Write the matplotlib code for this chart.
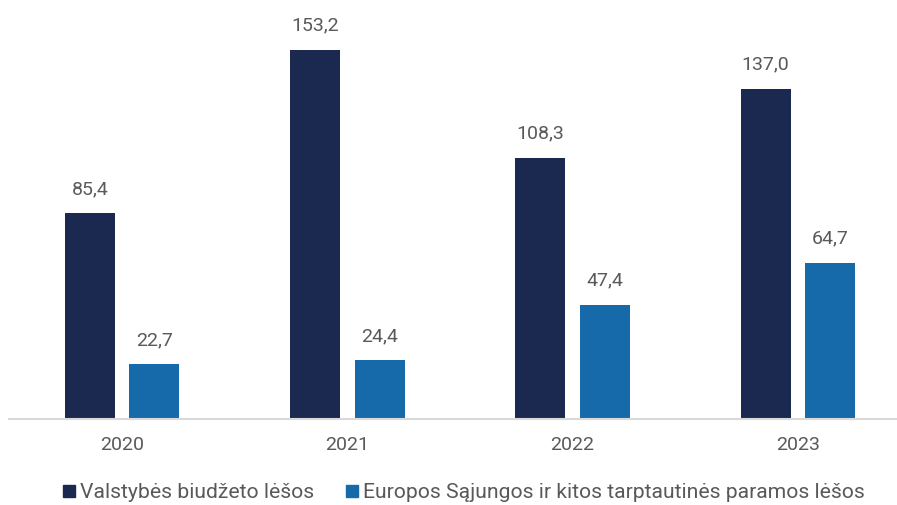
import matplotlib.pyplot as plt
import numpy as np
from matplotlib.patches import Patch

years = ["2020", "2021", "2022", "2023"]
state_budget = [85.4, 153.2, 108.3, 137.0]
eu_funds = [22.7, 24.4, 47.4, 64.7]
series_names = ["Valstybės biudžeto lėšos",
                "Europos Sąjungos ir kitos tarptautinės paramos lėšos"]

DARK = "#1b2951"
BLUE = "#176aaa"
TEXT = "#595959"

plt.rcParams["font.family"] = ["Roboto", "DejaVu Sans"]

fig = plt.figure(figsize=(8.97, 5.05), dpi=100)
ax = fig.add_axes([9 / 897, 86 / 505, 888 / 897, 419 / 505])

x = np.arange(len(years))
w = 0.222
off = 0.143
b1 = ax.bar(x - off, state_budget, w, color=DARK)
b2 = ax.bar(x + off, eu_funds, w, color=BLUE)

for bars in (b1, b2):
    for r in bars:
        v = r.get_height()
        ax.annotate(f"{v:.1f}".replace(".", ","),
                    (r.get_x() + r.get_width() / 2, v),
                    xytext=(0, 11), textcoords="offset points",
                    ha="center", va="bottom", fontsize=14, color=TEXT)

ax.set_xlim(-0.502, 3.44)
ax.set_ylim(0, 173.9)
ax.set_xticks(x)
ax.set_xticklabels(years, fontsize=14, color=TEXT)
ax.tick_params(axis="x", length=0, pad=12)
ax.set_yticks([])
for s in ("top", "right", "left"):
    ax.spines[s].set_visible(False)
ax.spines["bottom"].set_color("#d9d9d9")
ax.spines["bottom"].set_linewidth(1.5)

handles = [Patch(color=DARK), Patch(color=BLUE)]
fig.legend(handles, series_names, loc="center", bbox_to_anchor=(464 / 897, 1 - 493 / 505),
           ncol=2, frameon=False, fontsize=15.2, handlelength=0.55, handleheight=0.55,
           handletextpad=0.25, columnspacing=1.5, labelcolor=TEXT)

fig.savefig("out.png", dpi=100)
